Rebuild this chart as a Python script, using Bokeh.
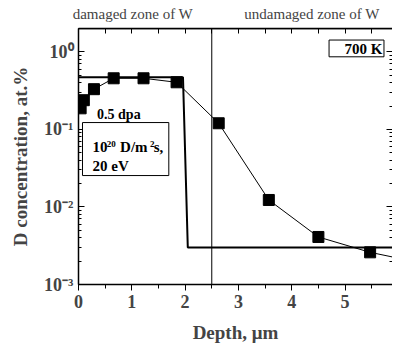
from bokeh.plotting import figure
from bokeh.models import (LogAxis, LinearAxis, FixedTicker, SingleIntervalTicker,
                          Label, Span, LogTicker, CustomJSTickFormatter, BoxAnnotation)
from bokeh.embed import file_html
from bokeh.resources import INLINE

# model (step) profile
model_x = [0.0, 1.96, 2.05, 6.0]
model_y = [0.47, 0.47, 0.003, 0.003]

# measured points
exp_x = [0.04, 0.10, 0.29, 0.66, 1.22, 1.84, 2.63, 3.57, 4.50, 5.47, 6.42]
exp_y = [0.187, 0.238, 0.33, 0.456, 0.456, 0.405, 0.12, 0.0123, 0.0041, 0.0026, 0.0019]

y_labels = {0.001: "10⁻³", 0.01: "10⁻²", 0.1: "10⁻¹", 1.0: "10⁰"}
zone_boundary = 2.5
zone_names = ["damaged zone of W", "undamaged zone of W"]
zone_label_x = [1.02, 4.38]
top_minor = [0, 0.5, 1, 1.5, 2, 2.5, 3, 3.5, 4, 4.5, 5, 5.5, 6]
Y_TOP = 2.0

FONT = "Liberation Serif"

p = figure(frame_width=314, frame_height=256, x_range=(0, 5.89), y_range=(1e-3, Y_TOP),
           y_axis_type="log", output_backend="svg", toolbar_location=None,
           min_border_left=78, min_border_top=28, min_border_bottom=60, min_border_right=0,
           background_fill_color="white", border_fill_color="white")
p.grid.visible = False
p.outline_line_color = None

# bottom axis
xa = p.xaxis[0]
xa.ticker = SingleIntervalTicker(interval=1, num_minor_ticks=2)
xa.axis_label = "Depth, μm"
xa.axis_label_text_font = FONT
xa.axis_label_text_font_style = "bold"
xa.axis_label_text_font_size = "19px"
xa.axis_label_standoff = 11
xa.major_label_text_font = FONT
xa.major_label_text_font_style = "bold"
xa.major_label_text_font_size = "18px"
xa.major_label_standoff = 4
xa.major_tick_in = 0
xa.major_tick_out = 6
xa.minor_tick_in = 0
xa.minor_tick_out = 4
xa.axis_line_width = 1.5

# left axis
ya = p.yaxis[0]
ya.ticker = LogTicker(desired_num_ticks=4, num_minor_ticks=10)
ya.major_label_overrides = y_labels
ya.axis_label = "D concentration, at.%"
ya.axis_label_text_font = FONT
ya.axis_label_text_font_style = "bold"
ya.axis_label_text_font_size = "19px"
ya.axis_label_standoff = 10
ya.major_label_text_font = FONT
ya.major_label_text_font_style = "bold"
ya.major_label_text_font_size = "18px"
ya.major_label_standoff = 5
ya.major_tick_in = 6
ya.major_tick_out = 0
ya.minor_tick_in = 3
ya.minor_tick_out = 0
ya.axis_line_width = 1.5

# top axis: zone names as labels, minor ticks every 0.5 inward
top = LinearAxis(ticker=FixedTicker(ticks=zone_label_x, minor_ticks=top_minor),
                 major_label_overrides={zone_label_x[0]: zone_names[0],
                                        zone_label_x[1]: zone_names[1]},
                 major_label_text_font=FONT, major_label_text_font_size="15px",
                 major_label_standoff=7, major_tick_line_color=None,
                 major_tick_in=0, major_tick_out=0, minor_tick_in=5, minor_tick_out=0,
                 axis_line_width=1.5, axis_line_color="black")
p.add_layout(top, "above")

# right axis (ticks only)
right = LogAxis(ticker=LogTicker(desired_num_ticks=4, num_minor_ticks=10),
                formatter=CustomJSTickFormatter(code="return '';"), major_label_standoff=0,
                major_tick_in=6, major_tick_out=0, minor_tick_in=3, minor_tick_out=0,
                axis_line_color=None)
p.add_layout(right, "right")

# frame top edge and zone boundary
p.add_layout(Span(location=Y_TOP, dimension="width", line_color="black", line_width=1.5))
p.add_layout(Span(location=zone_boundary, dimension="height", line_color="black", line_width=1))

# curves
p.line(model_x, model_y, line_color="black", line_width=2)
p.line(exp_x, exp_y, line_color="black", line_width=1)
p.scatter(exp_x, exp_y, marker="square", size=11, fill_color="black", line_color="black")

# boxes
p.add_layout(BoxAnnotation(left=0.075, right=1.694, top=0.1225, bottom=0.0254,
                           fill_color="white", fill_alpha=1.0,
                           line_color="black", line_width=1, line_alpha=1.0))
p.add_layout(BoxAnnotation(left=4.70, right=5.73, top=1.42, bottom=0.863,
                           fill_color="white", fill_alpha=1.0,
                           line_color="black", line_width=1, line_alpha=1.0))

def lab(x, y, text, size="15px", align="left"):
    p.add_layout(Label(x=x, y=y, text=text, text_font=FONT, text_font_style="bold",
                       text_font_size=size, text_align=align, text_baseline="middle",
                       text_color="black"))

# texts
lab(0.757, 0.155, "0.5 dpa", size="14px", align="center")
lab(0.263, 0.0588, "10")
lab(0.531, 0.0656, "20", size="9px")
lab(0.780, 0.0588, "D/m")
lab(1.34, 0.0656, "2", size="9px")
lab(1.41, 0.0588, "s,")
lab(0.263, 0.0341, "20 eV")
lab(5.70, 1.104, "700 K", align="right")

open("out.html", "w").write(file_html(p, INLINE))
